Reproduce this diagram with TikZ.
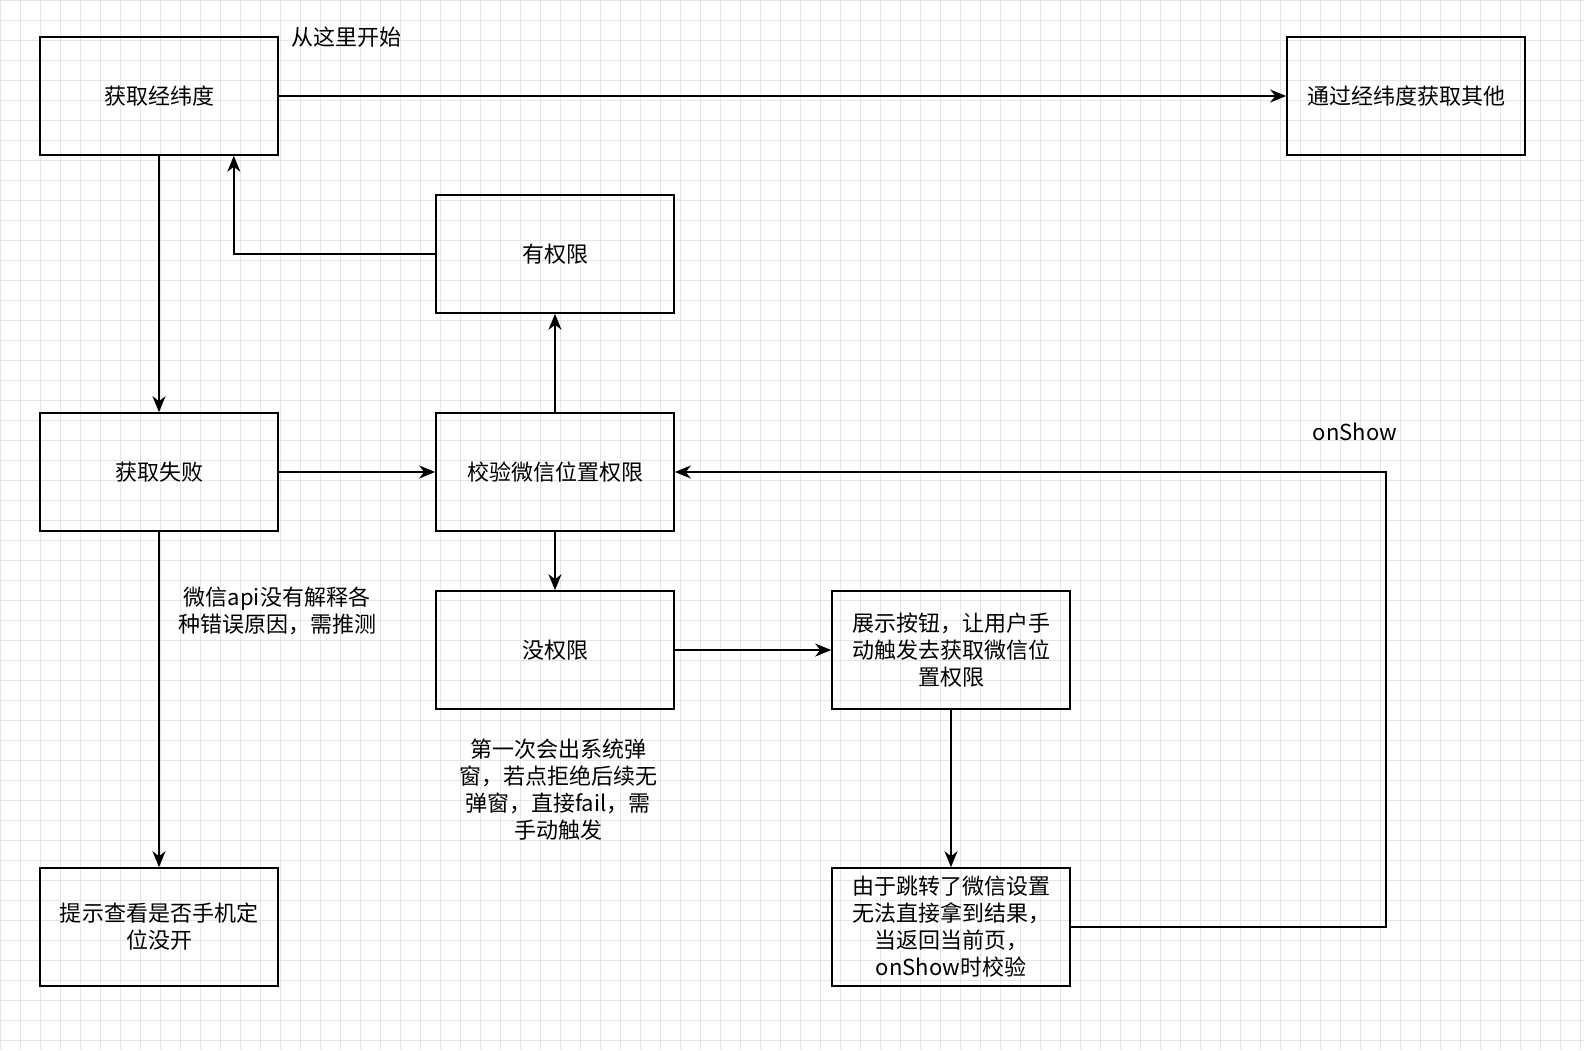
\documentclass[tikz,border=0pt]{standalone}
\usepackage{fontspec}
\setmainfont{Noto Sans CJK SC}
\usetikzlibrary{positioning,arrows.meta}
\definecolor{gridgray}{rgb}{0.9,0.9,0.9}
\tikzset{
	box/.style={draw,line width=1.6bp,minimum width=238bp,minimum height=118bp,align=center,font=\fontsize{22bp}{27bp}\selectfont},
	flow/.style={line width=1.6bp,-{Stealth[length=16bp,width=13bp,inset=5bp]}},
	note/.style={align=center,font=\fontsize{22bp}{27bp}\selectfont}
}
\begin{document}
\begin{tikzpicture}[x=1bp,y=-1bp]
	\useasboundingbox (0,0) rectangle (1584,1050);
	
	%% grid
	\foreach \gx in {0,20,...,1580} \draw[gridgray,line width=0.6bp] (\gx,0) -- (\gx,1050);
	\foreach \gy in {0,20,...,1040} \draw[gridgray,line width=0.6bp] (0,\gy) -- (1584,\gy);
	
	%% boxes
	\node[box] (jingwei) at (159,96) {获取经纬度};
	\node[box] (qita) at (1406,96) {通过经纬度获取其他};
	\node[box] (youquan) at (555,254) {有权限};
	\node[box] (shibai) at (159,472) {获取失败};
	\node[box] (jiaoyan) at (555,472) {校验微信位置权限};
	\node[box] (meiquan) at (555,650) {没权限};
	\node[box] (anniu) at (951,650) {展示按钮，让用户手\\动触发去获取微信位\\置权限};
	\node[box] (tiaozhuan) at (951,927) {由于跳转了微信设置\\无法直接拿到结果，\\当返回当前页，\\onShow时校验};
	\node[box] (tishi) at (159,927) {提示查看是否手机定\\位没开};
	
	%% labels
	\node[note,anchor=west] (kaishi) at (288,37) {从这里开始};
	\node[note] (onshow) at (1355,432) {onShow};
	\node[note] (api) at (277,611) {微信api没有解释各\\种错误原因，需推测};
	\node[note] (diyici) at (558,790) {第一次会出系统弹\\窗，若点拒绝后续无\\弹窗，直接fail，需\\手动触发};
	
	%% connectors
	\coordinate (back) at (1386,472);
	\draw[flow] (jingwei) -- (qita);
	\draw[flow] (jingwei) -- (shibai);
	\draw[flow] (youquan.west) -| ([xshift=-45bp]jingwei.south east);
	\draw[flow] (shibai) -- (jiaoyan);
	\draw[flow] (jiaoyan) -- (youquan);
	\draw[flow] (jiaoyan) -- (meiquan);
	\draw[flow] (meiquan) -- (anniu);
	\draw[flow] (anniu) -- (tiaozhuan);
	\draw[flow] (tiaozhuan.east) -| (back) -- (jiaoyan.east);
	\draw[flow] (shibai) -- (tishi);
\end{tikzpicture}
\end{document}
